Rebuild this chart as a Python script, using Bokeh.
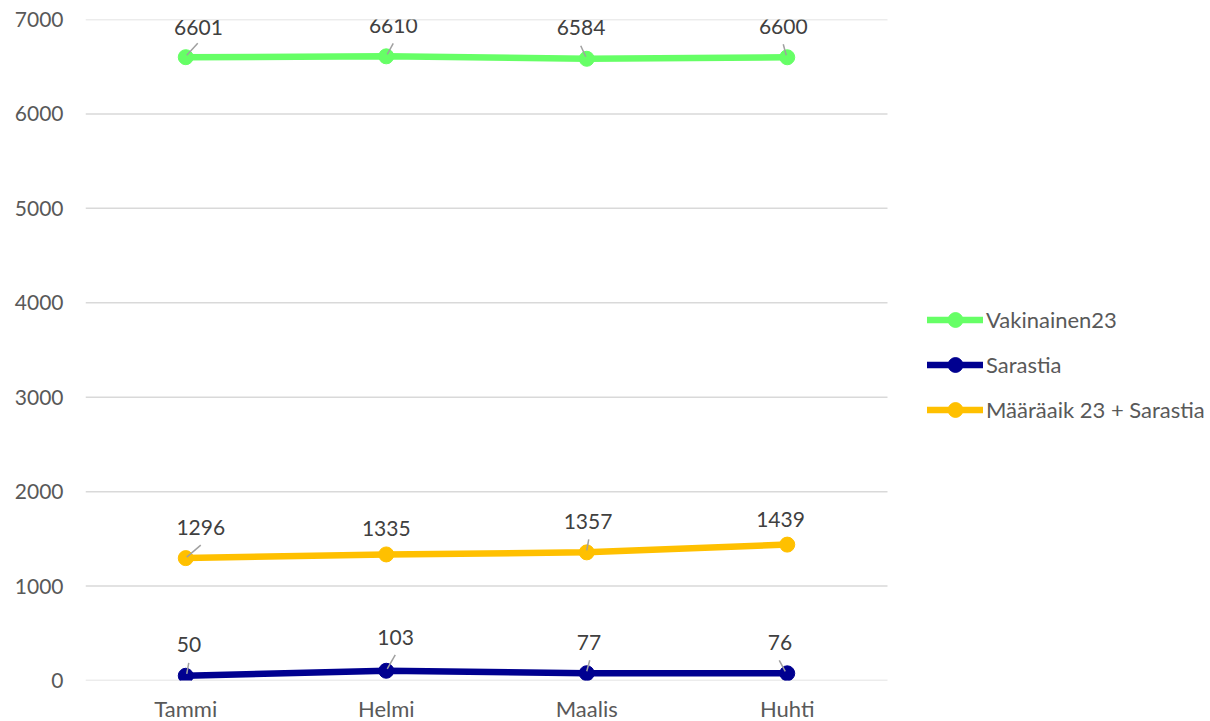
from bokeh.plotting import figure
from bokeh.models import Range1d, FixedTicker, Legend, LegendItem, ColumnDataSource
from bokeh.embed import file_html
from bokeh.resources import INLINE
from bokeh.core.properties import value

# ---- data ----
months = ["Tammi", "Helmi", "Maalis", "Huhti"]
vakinainen = [6601, 6610, 6584, 6600]
sarastia = [50, 103, 77, 76]
maaraaik = [1296, 1335, 1357, 1439]
series_names = ["Vakinainen23", "Sarastia", "Määräaik 23 + Sarastia"]
y_ticks = [0, 1000, 2000, 3000, 4000, 5000, 6000, 7000]

# ---- style ----
colors = ["#66FF66", "#000090", "#FFC000"]
FONT = "Lato"
TXT = "#595959"
LBL = "#404040"
LEFT = 85
TOP = 19
PLOT_W = 802          # width of the gridded plot area
FRAME_W = 1120        # frame includes the legend area on the right
FRAME_H = 661
Y_MAX = 7000

# label offsets in px (dx right, dy up) relative to point
label_off = [
    [(12.7, 30), (7, 30.7), (-5.7, 31), (-4, 31)],
    [(3.3, 31.7), (9.3, 33.3), (2.3, 31), (-7.3, 31)],
    [(15, 30.7), (0, 26.3), (1.3, 31), (-6.7, 25.3)],
]
# leader lines (px): (dx0, dy0, dx1, dy1) or None
leader_off = [
    [(1, 2, 12, 14), (1, 2, 7, 13), (-1, 2, -6, 13), (-1, 2, -4, 13)],
    [(1, 2, 3, 13), (1, 2, 9, 16), (0, 2, 3, 13), (-2, 2, -8, 13)],
    [(1, 1, 15, 13), None, (0, 2, 2, 13), None],
]

series = [vakinainen, sarastia, maaraaik]
n = len(months)
xs = [i + 0.5 for i in range(n)]
px_x = n / PLOT_W
px_y = Y_MAX / FRAME_H
x_end = n * FRAME_W / PLOT_W

p = figure(frame_width=FRAME_W, frame_height=FRAME_H, output_backend="svg",
           toolbar_location=None,
           x_range=Range1d(0, x_end), y_range=Range1d(0, Y_MAX),
           min_border_left=LEFT, min_border_top=TOP, min_border_right=0,
           min_border_bottom=0)
p.outline_line_color = None
p.background_fill_color = "white"
p.border_fill_color = "white"

p.xgrid.grid_line_color = None
p.ygrid.grid_line_color = None

# horizontal gridlines only across the plot area
p.segment(x0=[0] * len(y_ticks), x1=[n] * len(y_ticks), y0=y_ticks, y1=y_ticks,
          line_color="#D9D9D9", line_width=1.5)

p.yaxis.ticker = FixedTicker(ticks=y_ticks)
p.yaxis.axis_line_color = None
p.yaxis.major_tick_line_color = None
p.yaxis.minor_tick_line_color = None
p.yaxis.major_tick_out = 0
p.yaxis.major_tick_in = 0
p.yaxis.major_label_standoff = 22
p.yaxis.major_label_text_font = FONT
p.yaxis.major_label_text_font_size = "21px"
p.yaxis.major_label_text_color = TXT

p.xaxis.ticker = FixedTicker(ticks=xs)
p.xaxis.major_label_overrides = {x: m for x, m in zip(xs, months)}
p.xaxis.axis_line_color = None
p.xaxis.major_tick_line_color = None
p.xaxis.minor_tick_line_color = None
p.xaxis.major_tick_out = 0
p.xaxis.major_tick_in = 0
p.xaxis.major_label_standoff = 14
p.xaxis.major_label_text_font = FONT
p.xaxis.major_label_text_font_size = "22px"
p.xaxis.major_label_text_color = TXT

items = []
for k, (vals, name, col) in enumerate(zip(series, series_names, colors)):
    src = ColumnDataSource(dict(x=xs, y=vals))
    lr = p.line("x", "y", source=src, line_color=col, line_width=6.5, line_cap="round")
    sr = p.scatter("x", "y", source=src, size=15, fill_color=col, line_color=col)
    items.append(LegendItem(label=name, renderers=[lr, sr]))

    # leader lines
    x0, y0, x1, y1 = [], [], [], []
    for i, v in enumerate(vals):
        lo = leader_off[k][i]
        if lo is None:
            continue
        x0.append(xs[i] + lo[0] * px_x)
        y0.append(v + lo[1] * px_y)
        x1.append(xs[i] + lo[2] * px_x)
        y1.append(v + lo[3] * px_y)
    p.segment(x0=x0, y0=y0, x1=x1, y1=y1, line_color="#A0A0A0", line_width=1.5)

    # labels
    lsrc = ColumnDataSource(dict(
        x=xs, y=vals, t=[str(v) for v in vals],
        xo=[o[0] for o in label_off[k]], yo=[-o[1] for o in label_off[k]]))
    p.text("x", "y", text="t", source=lsrc, x_offset="xo", y_offset="yo",
           text_align="center", text_baseline="middle",
           text_font=value(FONT), text_font_size="21px", text_color=LBL)

# legend: (x, y) = left edge / bottom edge, px from the frame's bottom-left
legend = Legend(items=items, location=(842, 252))
legend.padding = 0
legend.margin = 0
legend.border_line_color = None
legend.background_fill_alpha = 0
legend.glyph_width = 56
legend.glyph_height = 37
legend.label_height = 37
legend.label_standoff = 3
legend.spacing = 8
legend.label_text_font = FONT
legend.label_text_font_size = "22px"
legend.label_text_color = TXT
p.add_layout(legend, "center")

open("out.html", "w").write(file_html(p, INLINE))
